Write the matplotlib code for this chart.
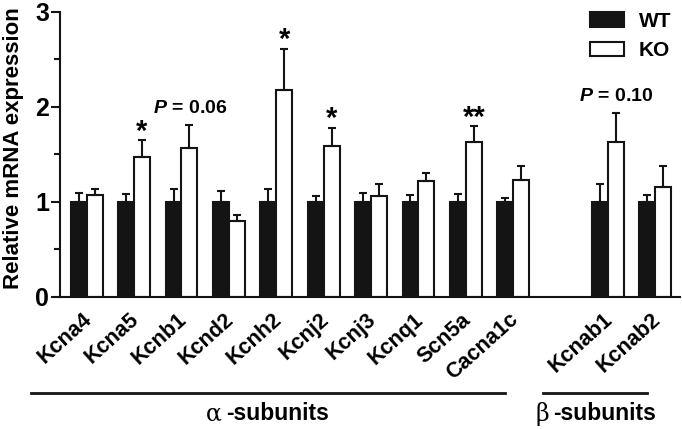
import numpy as np
import matplotlib
matplotlib.use("Agg")
import matplotlib.pyplot as plt
from matplotlib.patches import Patch
import matplotlib.transforms as mtransforms

plt.rcParams['font.family'] = ['Liberation Sans', 'DejaVu Sans']
plt.rcParams['mathtext.fontset'] = 'custom'
plt.rcParams['mathtext.it'] = 'Liberation Sans:italic:bold'
plt.rcParams['mathtext.rm'] = 'Liberation Sans:bold'
plt.rcParams['mathtext.bf'] = 'Liberation Sans:bold'

# ---- data ----
alpha_genes = ['Kcna4', 'Kcna5', 'Kcnb1', 'Kcnd2', 'Kcnh2', 'Kcnj2', 'Kcnj3',
               'Kcnq1', 'Scn5a', 'Cacna1c']
beta_genes = ['Kcnab1', 'Kcnab2']
genes = alpha_genes + beta_genes
wt_mean = [1.0, 1.0, 1.0, 1.0, 1.0, 1.0, 1.0, 1.0, 1.0, 1.0, 1.0, 1.0]
wt_err = [0.088, 0.077, 0.13, 0.11, 0.13, 0.056, 0.095, 0.067, 0.084, 0.042, 0.19, 0.07]
ko_mean = [1.07, 1.47, 1.57, 0.80, 2.18, 1.59, 1.06, 1.22, 1.63, 1.23, 1.63, 1.155]
ko_err = [0.063, 0.18, 0.24, 0.06, 0.43, 0.19, 0.13, 0.077, 0.165, 0.147, 0.30, 0.22]
signif = ['', '*', 'P = 0.06', '', '*', '*', '', '', '**', '', 'P = 0.10', '']
group_labels = ['\u03b1', '\u03b2']
series_labels = ['WT', 'KO']
yticks = [0, 1, 2, 3]

# ---- layout ----
W, H = 682, 429
fig = plt.figure(figsize=(W / 100, H / 100), dpi=100)
ax = fig.add_axes([59.5 / W, (H - 296.7) / H, (680 - 59.5) / W, (296.7 - 11.7) / H])

gap = 1
pos_alpha = np.arange(len(alpha_genes))
pos_beta = np.arange(len(beta_genes)) + len(alpha_genes) + gap
pos = np.concatenate([pos_alpha, pos_beta]).astype(float)
w = 0.335
lw = 1.5
dark = '#141414'

x_wt = pos - w / 2
x_ko = pos + w / 2
ax.bar(x_wt, wt_mean, width=w, color=dark, edgecolor=dark, linewidth=lw, zorder=2,
       label=series_labels[0])
ax.bar(x_ko, ko_mean, width=w, color='white', edgecolor=dark, linewidth=lw, zorder=2,
       label=series_labels[1])
ax.errorbar(x_wt, wt_mean, yerr=[np.zeros(len(wt_err)), wt_err], fmt='none',
            ecolor=dark, elinewidth=lw, capsize=2.6, capthick=lw, zorder=3)
ax.errorbar(x_ko, ko_mean, yerr=[np.zeros(len(ko_err)), ko_err], fmt='none',
            ecolor=dark, elinewidth=lw, capsize=2.6, capthick=lw, zorder=3)

# significance annotations
for xk, m, e, s in zip(x_ko, ko_mean, ko_err, signif):
    if not s:
        continue
    if s.startswith('P'):
        txt = '$P$' + s[1:]
        ax.annotate(txt, xy=(xk, m + e), xytext=(0.5, 12), textcoords='offset points',
                    ha='center', va='center', fontsize=14, fontweight='bold')
    else:
        ax.annotate(s, xy=(xk, m + e), xytext=(0, 6), textcoords='offset points',
                    ha='center', va='center', fontsize=21, fontweight='bold')

ax.set_xlim(-0.574, 12.52)
ax.set_ylim(0, 3)
ax.set_yticks(yticks)
ax.set_yticks([0.5, 1.5, 2.5], minor=True)
ax.set_yticklabels([str(t) for t in yticks], fontsize=18, fontweight='bold')
ax.tick_params(axis='y', which='major', length=6.5, width=lw, pad=1, color=dark)
ax.tick_params(axis='y', which='minor', length=4, width=lw, color=dark)
ax.set_xticks(pos)
ax.set_xticklabels(genes, rotation=42, ha='right', va='top', rotation_mode='anchor',
                   fontsize=15.5, fontweight='bold')
ax.tick_params(axis='x', length=0, pad=9)
offset = mtransforms.ScaledTranslation(-3.4 / 72, 0, fig.dpi_scale_trans)
for lab in ax.get_xticklabels():
    lab.set_transform(lab.get_transform() + offset)

for sp in ['top', 'right']:
    ax.spines[sp].set_visible(False)
ax.spines['left'].set_linewidth(lw)
ax.spines['bottom'].set_linewidth(lw)
ax.spines['left'].set_color(dark)
ax.spines['bottom'].set_color(dark)

ax.set_ylabel('Relative mRNA expression', fontsize=16, fontweight='bold')
ax.yaxis.set_label_coords(-0.058, 0.523)

# group lines and labels
trans = mtransforms.blended_transform_factory(ax.transData, ax.transAxes)
for g_pos, g_lab in zip([pos_alpha, pos_beta], group_labels):
    x0 = g_pos[0] - 1.18 - (0.2 if g_lab == '\u03b2' else 0)
    x1 = g_pos[-1] - 0.18
    ax.plot([x0, x1], [-0.337, -0.337], color=dark, lw=2, transform=trans, clip_on=False)
    xc = (x0 + x1) / 2
    t = ax.annotate('-subunits', xy=(xc, -0.41), xycoords=trans, xytext=(7, 0),
                    textcoords='offset points', ha='center', va='center',
                    fontsize=16.5, fontweight='bold', annotation_clip=False)
    ax.annotate(g_lab, xy=(0, 0.5), xycoords=t, xytext=(-3, 0), textcoords='offset points',
                ha='right', va='center', fontsize=17, family='DejaVu Serif',
                fontweight='normal')

# legend
handles = [Patch(facecolor=dark, edgecolor=dark, linewidth=lw),
           Patch(facecolor='white', edgecolor=dark, linewidth=lw)]
ax.legend(handles, series_labels, loc='upper right', bbox_to_anchor=(671 / W, 1 - 12 / H),
          bbox_transform=fig.transFigure, frameon=False,
          prop={'weight': 'bold', 'size': 15}, handlelength=1.62, handleheight=0.7,
          handletextpad=0.72, labelspacing=0.5, borderpad=0, borderaxespad=0)

fig.savefig('out.png', dpi=100)
